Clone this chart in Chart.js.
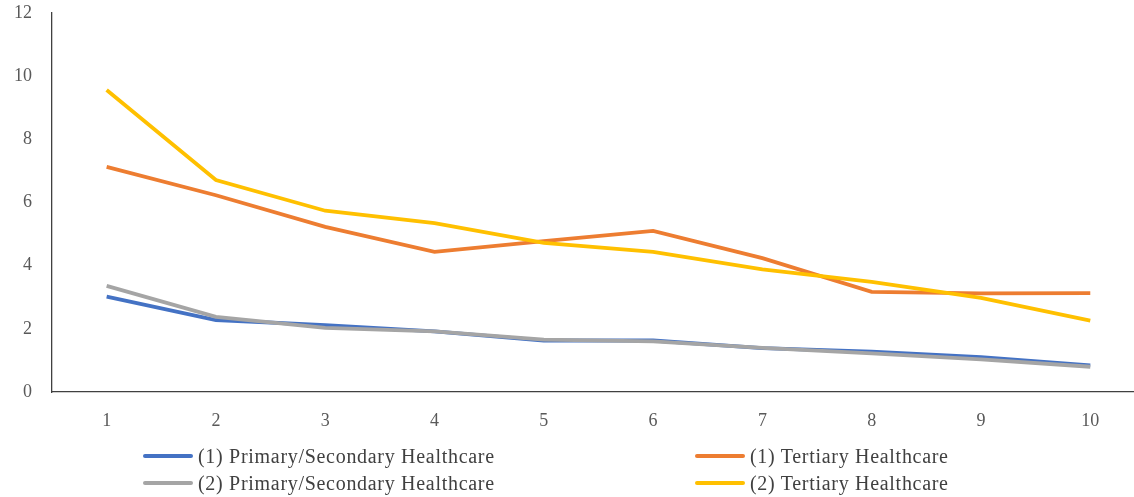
<!DOCTYPE html>
<html>
<head>
<meta charset="utf-8">
<script src="https://cdn.jsdelivr.net/npm/chart.js@4.4.1/dist/chart.umd.min.js"></script>
<style>
  html, body { margin: 0; padding: 0; background: #fff; }
  #wrap { position: relative; width: 1134px; height: 497px; overflow: hidden; }
  #chart { position: absolute; left: 0; top: 0; }
  .legend-item {
    position: absolute;
    display: flex;
    align-items: center;
    font-family: "Liberation Serif", "DejaVu Serif", serif;
    font-size: 20px;
    letter-spacing: 0.7px;
    color: #404040;
    white-space: nowrap;
    line-height: 1;
  }
  .legend-item span.swatch { display: inline-block; width: 50px; height: 4px; border-radius: 2px; margin-right: 5px; }
</style>
</head>
<body>
<div id="wrap">
  <canvas id="chart" width="1134" height="497"></canvas>
  <div id="legend"></div>
</div>
<script>
// data
const categories = [1, 2, 3, 4, 5, 6, 7, 8, 9, 10];
const yTicks = [0, 2, 4, 6, 8, 10, 12];

const primary1 = [3.02, 2.28, 2.12, 1.92, 1.63, 1.63, 1.39, 1.28, 1.10, 0.84];
const tertiary1 = [7.13, 6.23, 5.23, 4.44, 4.78, 5.10, 4.24, 3.17, 3.12, 3.13];
const primary2 = [3.36, 2.38, 2.03, 1.92, 1.66, 1.60, 1.40, 1.22, 1.03, 0.80];
const tertiary2 = [9.56, 6.71, 5.74, 5.35, 4.72, 4.44, 3.88, 3.49, 2.98, 2.26];

const seriesNames = [
  "(1) Primary/Secondary Healthcare",
  "(1) Tertiary Healthcare",
  "(2) Primary/Secondary Healthcare",
  "(2) Tertiary Healthcare",
];
const seriesValues = [primary1, tertiary1, primary2, tertiary2];
const seriesColors = ["#4472C4", "#ED7D31", "#A5A5A5", "#FFC000"];

const FONT = { family: "'Liberation Serif', 'DejaVu Serif', serif", size: 18 };

const datasets = seriesValues.map((vals, i) => ({
  label: seriesNames[i],
  data: vals.map((v, j) => ({ x: categories[j], y: v })),
  borderColor: seriesColors[i],
  backgroundColor: seriesColors[i],
  borderWidth: 3.8,
  pointRadius: 0,
  tension: 0,
  fill: false,
  order: seriesValues.length - i, // later series on top, like Excel
}));

new Chart(document.getElementById("chart"), {
  type: "line",
  data: { datasets },
  options: {
    responsive: false,
    animation: false,
    layout: { padding: { top: 13, right: 0, bottom: 64, left: 0 } },
    plugins: { legend: { display: false }, tooltip: { enabled: false } },
    scales: {
      x: {
        type: "linear",
        min: 0.5,
        max: 10.4,
        afterBuildTicks: (scale) => {
          scale.ticks = categories.map((v) => ({ value: v }));
        },
        afterFit: (scale) => {
          scale.height = 41;
          scale.paddingLeft = 0;
          scale.paddingRight = 0;
        },
        grid: { display: false, drawTicks: false },
        border: { display: true, color: "#404040", width: 1.3 },
        ticks: { color: "#595959", font: FONT, padding: 18, maxRotation: 0 },
      },
      y: {
        min: 0,
        max: 12,
        afterBuildTicks: (scale) => {
          scale.ticks = yTicks.map((v) => ({ value: v }));
        },
        afterFit: (scale) => {
          scale.width = 52;
          scale.paddingTop = 0;
          scale.paddingBottom = 0;
        },
        grid: { display: false, drawTicks: false },
        border: { display: true, color: "#404040", width: 1.3 },
        ticks: { color: "#595959", font: FONT, padding: 20 },
      },
    },
  },
});

// legend in two columns, same layout as the reference
const legendPos = [
  { left: 143, top: 456 },
  { left: 695, top: 456 },
  { left: 143, top: 483 },
  { left: 695, top: 483 },
];
const legendEl = document.getElementById("legend");
legendEl.innerHTML = seriesNames
  .map(
    (name, i) => `
  <div class="legend-item" style="left:${legendPos[i].left}px; top:${legendPos[i].top - 10}px; height:20px;">
    <span class="swatch" style="background:${seriesColors[i]}"></span>${name}
  </div>`
  )
  .join("");
</script>
</body>
</html>
